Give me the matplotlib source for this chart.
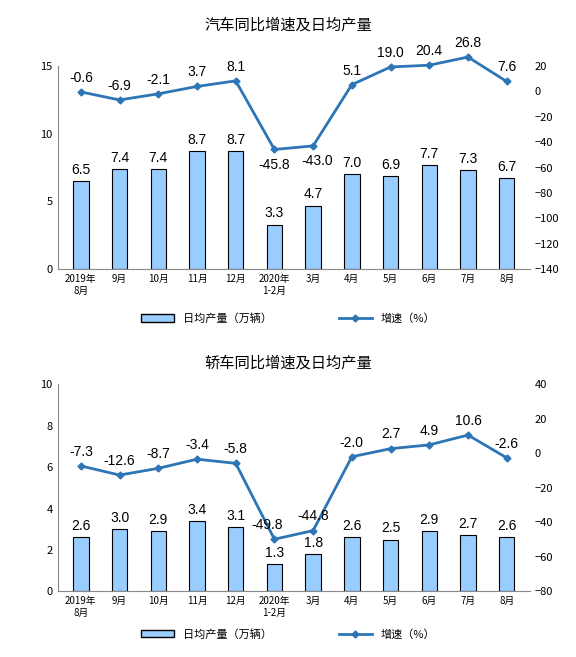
import matplotlib
matplotlib.use("Agg")
import matplotlib.pyplot as plt
from matplotlib.lines import Line2D
from matplotlib.patches import Patch

plt.rcParams['font.family'] = ['Noto Sans CJK SC', 'DejaVu Sans']
NUM = ['Liberation Sans', 'DejaVu Sans']

months = ["2019年\n8月", "9月", "10月", "11月", "12月", "2020年\n1-2月",
          "3月", "4月", "5月", "6月", "7月", "8月"]
car_daily = [6.5, 7.4, 7.4, 8.7, 8.7, 3.3, 4.7, 7.0, 6.9, 7.7, 7.3, 6.7]
car_growth = [-0.6, -6.9, -2.1, 3.7, 8.1, -45.8, -43.0, 5.1, 19.0, 20.4, 26.8, 7.6]
sedan_daily = [2.6, 3.0, 2.9, 3.4, 3.1, 1.3, 1.8, 2.6, 2.5, 2.9, 2.7, 2.6]
sedan_growth = [-7.3, -12.6, -8.7, -3.4, -5.8, -49.8, -44.8, -2.0, 2.7, 4.9, 10.6, -2.6]

BAR = "#99CCFF"
LINE = "#2E75B6"

fig = plt.figure(figsize=(5.76, 6.57), dpi=100)


def panel(rect, title, daily, growth, ylim, yticks, rlim, rticks, title_y, leg_y, offsets):
    ax = fig.add_axes(rect)
    x = range(len(months))
    ax.bar(x, daily, width=0.4, color=BAR, edgecolor="black", linewidth=0.8)
    for i, v in enumerate(daily):
        ax.text(i, v + ylim[1] * 0.02, f"{v:.1f}", ha="center", va="bottom",
                fontsize=10, family=NUM)
    ax.set_ylim(*ylim)
    ax.set_yticks(yticks)
    ax.set_xlim(-0.6, len(months) - 0.4)
    ax.set_xticks(list(x))
    ax.set_xticklabels(months, fontsize=7)
    ax.tick_params(axis="y", labelsize=8, length=0)
    ax.tick_params(axis="x", length=0)
    for s in ("top", "right"):
        ax.spines[s].set_visible(False)
    ax.spines["left"].set_color("#888888")
    ax.spines["bottom"].set_color("#888888")
    ax2 = ax.twinx()
    ax2.plot(x, growth, color=LINE, marker="D", markersize=3.5, linewidth=2, clip_on=False)
    span = rlim[1] - rlim[0]
    for i, v in enumerate(growth):
        dx, dy = offsets.get(i, (0, 1))
        if dy > 0:
            ax2.text(i + dx, v + span * 0.035, f"{v:.1f}", ha="center", va="bottom",
                     fontsize=10, family=NUM)
        else:
            ax2.text(i + dx, v - span * 0.04, f"{v:.1f}", ha="center", va="top",
                     fontsize=10, family=NUM)
    ax2.set_ylim(*rlim)
    ax2.set_yticks(rticks)
    ax2.tick_params(axis="y", labelsize=8, length=0)
    for s in ("top", "right", "left", "bottom"):
        ax2.spines[s].set_visible(False)
    fig.text(0.5, title_y, title, ha="center", fontsize=11)
    handles = [Patch(facecolor=BAR, edgecolor="black", label="日均产量（万辆）"),
               Line2D([], [], color=LINE, marker="D", markersize=3.5, lw=2, label="增速（%）")]
    fig.legend(handles=handles, loc="center", bbox_to_anchor=(0.5, leg_y), ncol=2,
               frameon=False, fontsize=8, columnspacing=6, handlelength=3)


panel([0.1, 0.59, 0.82, 0.31], "汽车同比增速及日均产量", car_daily, car_growth,
      (0, 15), [0, 5, 10, 15], (-140, 20), list(range(-140, 21, 20)), 0.955, 0.515,
      {5: (0, -1), 6: (0.1, -1)})
panel([0.1, 0.1, 0.82, 0.315], "轿车同比增速及日均产量", sedan_daily, sedan_growth,
      (0, 10), [0, 2, 4, 6, 8, 10], (-80, 40), list(range(-80, 41, 20)), 0.44, 0.035,
      {5: (-0.2, 1)})

fig.savefig("out.png", dpi=100)
